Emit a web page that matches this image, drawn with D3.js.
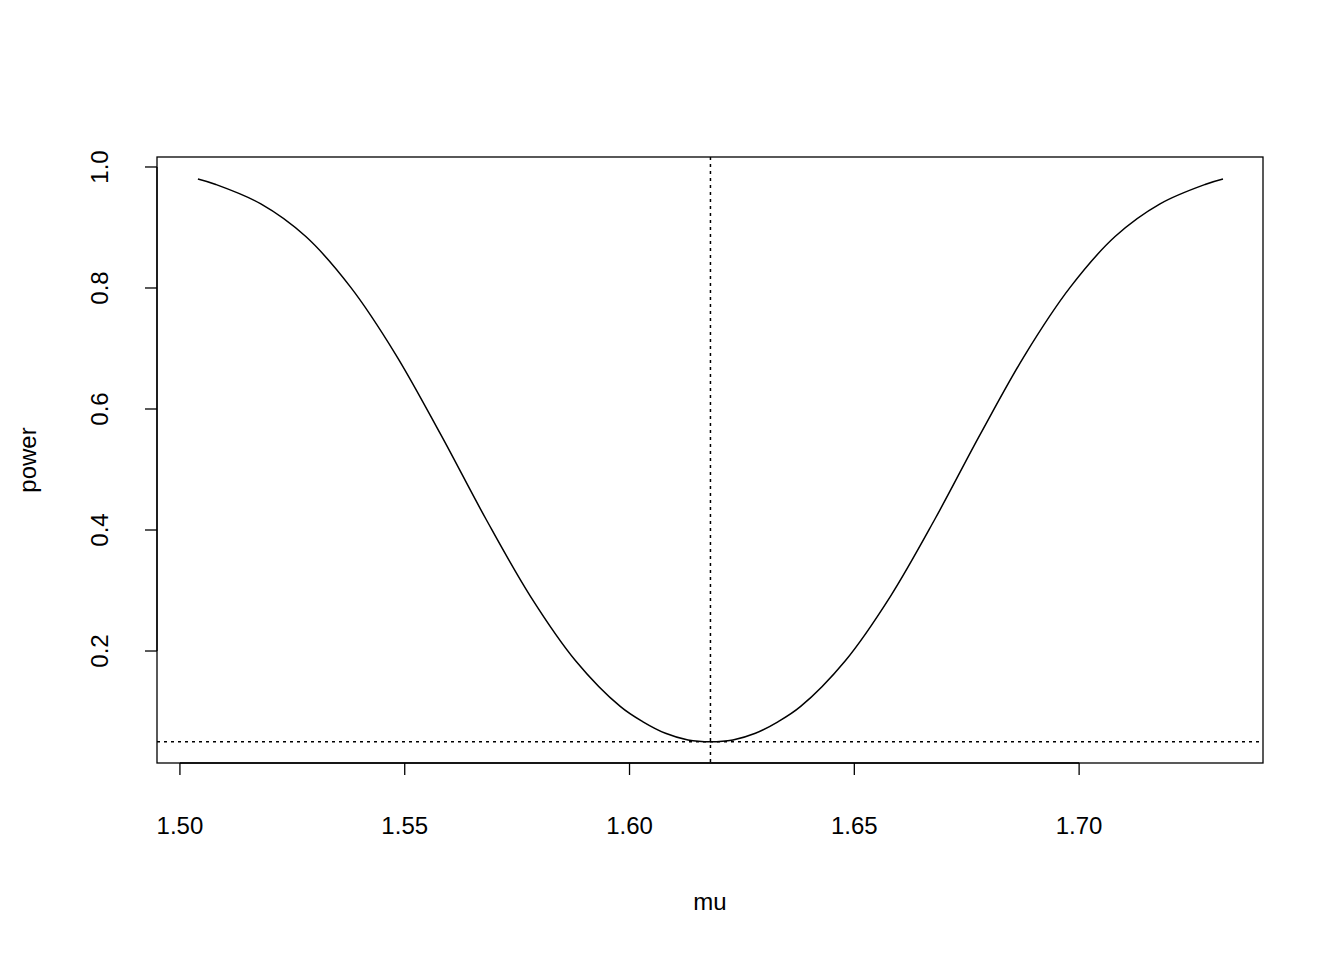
<!DOCTYPE html>
<html><head><meta charset="utf-8">
<script src="https://cdn.jsdelivr.net/npm/d3@7"></script>
<style>body{margin:0;background:#fff}text{font-family:"Liberation Sans",Arial,sans-serif}</style>
</head><body>
<svg id="chart" width="1344" height="960"></svg>
<script>
// power curve
var mu = [1.504, 1.508, 1.518, 1.528, 1.538, 1.548, 1.558, 1.568, 1.578, 1.588, 1.598, 1.603, 1.608, 1.613, 1.618,
          1.623, 1.628, 1.633, 1.638, 1.648, 1.658, 1.668, 1.678, 1.688, 1.698, 1.708, 1.718, 1.728, 1.732];
var power = [0.980, 0.971, 0.939, 0.885, 0.801, 0.690, 0.558, 0.419, 0.290, 0.184, 0.108, 0.083, 0.064, 0.053, 0.050,
             0.053, 0.064, 0.083, 0.108, 0.184, 0.290, 0.419, 0.558, 0.690, 0.801, 0.885, 0.939, 0.971, 0.980];
var xTicks = [1.50, 1.55, 1.60, 1.65, 1.70];
var yTicks = [0.2, 0.4, 0.6, 0.8, 1.0];
var muNull = 1.618;
var alpha = 0.05;

(function () {
  var svg = d3.select("#chart");
  var left = 157, right = 1263, plotTop = 157, plotBottom = 763;

  var x = d3.scaleLinear().domain([1.4949, 1.7409]).range([left, right]);
  var y = d3.scaleLinear().domain([0.0149, 1.0165]).range([plotBottom, plotTop]);

  svg.append("rect")
    .attr("x", left).attr("y", plotTop)
    .attr("width", right - left).attr("height", plotBottom - plotTop)
    .attr("fill", "none").attr("stroke", "#000").attr("stroke-width", 1.3);

  // x axis
  var gx = svg.append("g");
  gx.append("line")
    .attr("x1", x(xTicks[0])).attr("x2", x(xTicks[xTicks.length - 1]))
    .attr("y1", plotBottom).attr("y2", plotBottom).attr("stroke", "#000").attr("stroke-width", 1.3);
  gx.selectAll("line.t").data(xTicks).enter().append("line")
    .attr("class", "t")
    .attr("x1", function (d) { return x(d); }).attr("x2", function (d) { return x(d); })
    .attr("y1", plotBottom).attr("y2", plotBottom + 12).attr("stroke", "#000").attr("stroke-width", 1.3);
  gx.selectAll("text").data(xTicks).enter().append("text")
    .attr("x", function (d) { return x(d); }).attr("y", 834)
    .attr("text-anchor", "middle").attr("font-size", 24)
    .text(function (d) { return d.toFixed(2); });

  // y axis
  var gy = svg.append("g");
  gy.append("line")
    .attr("x1", left).attr("x2", left)
    .attr("y1", y(yTicks[0])).attr("y2", y(yTicks[yTicks.length - 1])).attr("stroke", "#000").attr("stroke-width", 1.3);
  gy.selectAll("line.t").data(yTicks).enter().append("line")
    .attr("class", "t")
    .attr("x1", left - 12).attr("x2", left)
    .attr("y1", function (d) { return y(d); }).attr("y2", function (d) { return y(d); })
    .attr("stroke", "#000").attr("stroke-width", 1.3);
  gy.selectAll("text").data(yTicks).enter().append("text")
    .attr("transform", function (d) { return "translate(108," + y(d) + ") rotate(-90)"; })
    .attr("text-anchor", "middle").attr("font-size", 24)
    .text(function (d) { return d.toFixed(1); });

  svg.append("text").attr("x", (left + right) / 2).attr("y", 910)
    .attr("text-anchor", "middle").attr("font-size", 24).text("mu");
  svg.append("text").attr("transform", "translate(36," + (plotTop + plotBottom) / 2 + ") rotate(-90)")
    .attr("text-anchor", "middle").attr("font-size", 24).text("power");

  // reference lines
  svg.append("line")
    .attr("x1", x(muNull)).attr("x2", x(muNull)).attr("y1", plotTop).attr("y2", plotBottom)
    .attr("stroke", "#000").attr("stroke-width", 1.5).attr("stroke-dasharray", "3,4");
  svg.append("line")
    .attr("x1", left).attr("x2", right).attr("y1", y(alpha)).attr("y2", y(alpha))
    .attr("stroke", "#000").attr("stroke-width", 1.5).attr("stroke-dasharray", "3,4");

  var line = d3.line()
    .x(function (d, i) { return x(mu[i]); })
    .y(function (d) { return y(d); })
    .curve(d3.curveCatmullRom);
  svg.append("path").datum(power)
    .attr("d", line).attr("fill", "none").attr("stroke", "#000").attr("stroke-width", 1.5);
})();
</script>
</body></html>
